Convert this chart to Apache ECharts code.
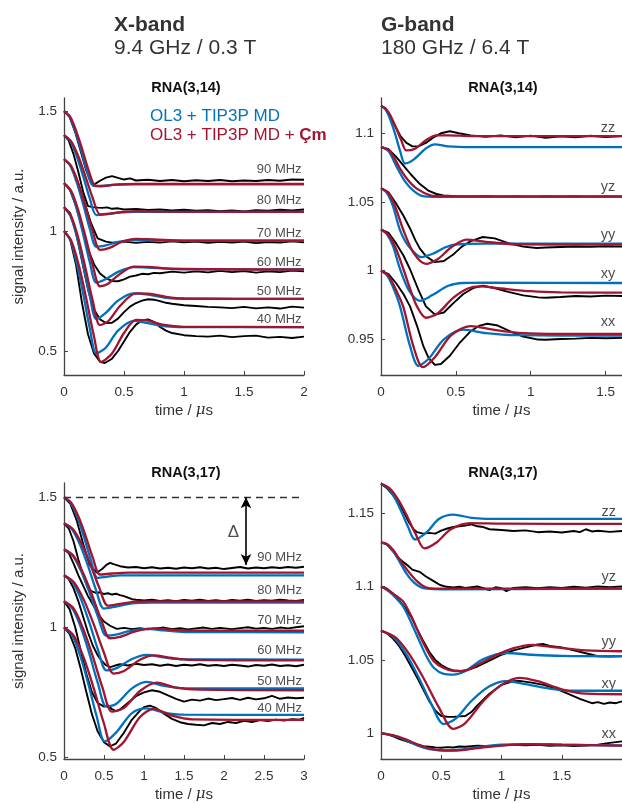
<!DOCTYPE html>
<html>
<head>
<meta charset="utf-8">
<script src="https://cdn.jsdelivr.net/npm/echarts@6/dist/echarts.min.js"></script>
<style>
  html, body { margin: 0; padding: 0; background: #fff; }
  #main { width: 622px; height: 803px; }
</style>
</head>
<body>
<div id="main"></div>
<script>
// ---------- X-band, RNA(3,14): [time (us), signal] ----------
var x14_names = ['90 MHz', '80 MHz', '70 MHz', '60 MHz', '50 MHz', '40 MHz'];

var x14_90_exp = [[0,1.5],[0.046,1.476],[0.092,1.415],[0.138,1.335],[0.184,1.255],[0.23,1.196],[0.26,1.197],[0.3,1.21],[0.35,1.223],[0.4,1.229],[0.45,1.222],[0.5,1.215],[0.55,1.22],[0.6,1.211],[0.7,1.214],[0.8,1.209],[0.9,1.213],[1.0,1.208],[1.1,1.212],[1.2,1.209],[1.3,1.213],[1.4,1.208],[1.5,1.211],[1.6,1.209],[1.7,1.213],[1.8,1.21],[1.9,1.215],[2.0,1.214]];
var x14_90_md = [[0,1.5],[0.048,1.475],[0.096,1.414],[0.144,1.335],[0.192,1.25],[0.24,1.19],[0.3,1.187],[0.4,1.193],[0.55,1.195],[2,1.195]];
var x14_90_cm = [[0,1.5],[0.052,1.476],[0.104,1.414],[0.156,1.334],[0.208,1.249],[0.26,1.19],[0.32,1.188],[0.45,1.195],[0.6,1.197],[2,1.197]];

var x14_80_exp = [[0,1.4],[0.04,1.377],[0.08,1.32],[0.12,1.245],[0.16,1.163],[0.2,1.104],[0.24,1.1],[0.28,1.098],[0.32,1.097],[0.36,1.099],[0.4,1.093],[0.45,1.095],[0.5,1.09],[0.6,1.092],[0.7,1.088],[0.8,1.09],[0.9,1.086],[1.0,1.089],[1.1,1.085],[1.2,1.087],[1.3,1.083],[1.4,1.086],[1.5,1.082],[1.6,1.087],[1.7,1.085],[1.8,1.089],[1.9,1.086],[2.0,1.09]];
var x14_80_md = [[0,1.4],[0.054,1.374],[0.108,1.31],[0.162,1.225],[0.216,1.134],[0.27,1.067],[0.35,1.07],[0.45,1.077],[0.6,1.08],[2,1.08]];
var x14_80_cm = [[0,1.4],[0.06,1.374],[0.12,1.311],[0.18,1.226],[0.24,1.137],[0.3,1.07],[0.38,1.073],[0.5,1.08],[0.62,1.083],[0.8,1.081],[2,1.08]];

var x14_70_exp = [[0,1.3],[0.056,1.273],[0.112,1.21],[0.168,1.125],[0.224,1.035],[0.28,0.97],[0.35,0.956],[0.4,0.952],[0.5,0.956],[0.6,0.951],[0.7,0.955],[0.8,0.952],[0.9,0.957],[1.0,0.953],[1.1,0.956],[1.2,0.951],[1.3,0.955],[1.4,0.952],[1.5,0.956],[1.6,0.95],[1.7,0.954],[1.8,0.952],[1.9,0.957],[2.0,0.953]];
var x14_70_md = [[0,1.3],[0.054,1.271],[0.108,1.2],[0.162,1.108],[0.216,1.008],[0.27,0.935],[0.35,0.94],[0.45,0.955],[0.58,0.962],[0.8,0.96],[2,0.96]];
var x14_70_cm = [[0,1.3],[0.06,1.271],[0.12,1.198],[0.18,1.101],[0.24,0.998],[0.3,0.922],[0.38,0.93],[0.48,0.955],[0.6,0.968],[0.75,0.965],[1,0.96],[2,0.96]];

var x14_60_exp = [[0,1.2],[0.05,1.172],[0.1,1.105],[0.15,1.015],[0.2,0.925],[0.25,0.862],[0.3,0.823],[0.35,0.803],[0.4,0.792],[0.45,0.791],[0.5,0.799],[0.55,0.81],[0.6,0.815],[0.65,0.822],[0.7,0.82],[0.75,0.826],[0.8,0.824],[0.9,0.831],[1.0,0.827],[1.1,0.832],[1.2,0.828],[1.3,0.834],[1.4,0.829],[1.5,0.833],[1.6,0.827],[1.7,0.832],[1.8,0.829],[1.9,0.835],[2.0,0.832]];
var x14_60_md = [[0,1.2],[0.054,1.168],[0.108,1.088],[0.162,0.982],[0.216,0.868],[0.27,0.785],[0.35,0.8],[0.45,0.83],[0.58,0.85],[0.7,0.848],[0.9,0.842],[2,0.84]];
var x14_60_cm = [[0,1.2],[0.06,1.167],[0.12,1.085],[0.18,0.975],[0.24,0.857],[0.3,0.77],[0.36,0.778],[0.45,0.815],[0.58,0.852],[0.7,0.851],[0.9,0.843],[2,0.84]];

var x14_50_exp = [[0,1.1],[0.05,1.076],[0.1,0.995],[0.15,0.875],[0.2,0.757],[0.25,0.673],[0.3,0.632],[0.35,0.617],[0.4,0.618],[0.45,0.635],[0.5,0.662],[0.55,0.685],[0.6,0.7],[0.65,0.71],[0.7,0.716],[0.75,0.714],[0.8,0.708],[0.85,0.701],[0.9,0.697],[1.0,0.691],[1.1,0.688],[1.2,0.684],[1.3,0.682],[1.4,0.679],[1.5,0.684],[1.6,0.678],[1.7,0.682],[1.8,0.677],[1.9,0.685],[2.0,0.681]];
var x14_50_md = [[0,1.1],[0.054,1.063],[0.108,0.975],[0.162,0.857],[0.216,0.727],[0.27,0.633],[0.35,0.66],[0.45,0.71],[0.58,0.74],[0.7,0.735],[0.85,0.722],[1,0.718],[2,0.717]];
var x14_50_cm = [[0,1.1],[0.06,1.062],[0.12,0.969],[0.18,0.843],[0.24,0.708],[0.3,0.608],[0.37,0.625],[0.47,0.69],[0.6,0.74],[0.72,0.738],[0.85,0.726],[1,0.719],[2,0.717]];

var x14_40_exp = [[0,1.0],[0.05,0.968],[0.1,0.86],[0.15,0.7],[0.2,0.57],[0.25,0.49],[0.3,0.455],[0.34,0.45],[0.4,0.468],[0.45,0.5],[0.5,0.54],[0.55,0.58],[0.6,0.61],[0.65,0.628],[0.7,0.632],[0.75,0.622],[0.8,0.6],[0.85,0.585],[0.9,0.575],[1.0,0.566],[1.1,0.562],[1.2,0.56],[1.3,0.564],[1.4,0.558],[1.5,0.562],[1.6,0.564],[1.7,0.556],[1.8,0.559],[1.9,0.554],[2.0,0.56]];
var x14_40_md = [[0,1.0],[0.054,0.96],[0.108,0.862],[0.162,0.733],[0.216,0.592],[0.27,0.49],[0.35,0.515],[0.45,0.585],[0.58,0.626],[0.7,0.616],[0.85,0.603],[1,0.6],[2,0.6]];
var x14_40_cm = [[0,1.0],[0.062,0.958],[0.124,0.856],[0.186,0.718],[0.248,0.566],[0.31,0.455],[0.4,0.49],[0.5,0.575],[0.6,0.63],[0.7,0.627],[0.82,0.61],[1,0.601],[2,0.6]];

// ---------- G-band, RNA(3,14) ----------
var g14_names = ['zz', 'yz', 'yy', 'xy', 'xx'];

var g14_zz_exp = [[0,1.12],[0.03,1.118],[0.06,1.113],[0.09,1.106],[0.13,1.098],[0.17,1.093],[0.21,1.0905],[0.25,1.0905],[0.3,1.093],[0.35,1.097],[0.4,1.1],[0.46,1.1015],[0.52,1.1],[0.6,1.0985],[0.7,1.0975],[0.8,1.0985],[0.9,1.097],[1.0,1.0983],[1.1,1.0968],[1.2,1.0978],[1.3,1.097],[1.4,1.0982],[1.5,1.0972],[1.61,1.098]];
var g14_zz_md = [[0,1.12],[0.032,1.117],[0.064,1.1095],[0.096,1.099],[0.128,1.087],[0.16,1.078],[0.22,1.081],[0.3,1.089],[0.36,1.092],[0.45,1.0905],[0.6,1.09],[1.61,1.09]];
var g14_zz_cm = [[0,1.12],[0.034,1.1177],[0.068,1.1119],[0.102,1.1037],[0.136,1.0947],[0.17,1.0875],[0.23,1.089],[0.3,1.095],[0.37,1.0985],[0.45,1.0985],[0.6,1.098],[1.61,1.098]];

var g14_yz_exp = [[0,1.09],[0.05,1.0885],[0.1,1.083],[0.149,1.0767],[0.2,1.07],[0.26,1.063],[0.32,1.058],[0.37,1.0558],[0.417,1.0548],[0.5,1.0542],[0.6,1.0538],[0.7,1.0542],[0.8,1.0536],[0.9,1.054],[1.0,1.0535],[1.1,1.054],[1.2,1.0536],[1.3,1.0541],[1.4,1.0535],[1.5,1.054],[1.61,1.0537]];
var g14_yz_md = [[0,1.09],[0.05,1.087],[0.105,1.0755],[0.16,1.065],[0.216,1.0583],[0.28,1.0542],[0.35,1.0538],[1.61,1.0538]];
var g14_yz_cm = [[0,1.09],[0.06,1.087],[0.127,1.0743],[0.18,1.066],[0.239,1.0597],[0.33,1.0548],[0.42,1.054],[1.61,1.054]];

var g14_yy_exp = [[0,1.06],[0.05,1.057],[0.1,1.049],[0.15,1.04],[0.194,1.0307],[0.23,1.022],[0.26,1.016],[0.3,1.0105],[0.36,1.0062],[0.42,1.007],[0.48,1.0115],[0.54,1.0175],[0.6,1.0215],[0.68,1.0245],[0.76,1.0235],[0.85,1.02],[0.95,1.0175],[1.04,1.0165],[1.1,1.0168],[1.2,1.0172],[1.3,1.0176],[1.4,1.0173],[1.5,1.0178],[1.61,1.0175]];
var g14_yy_md = [[0,1.06],[0.04,1.0565],[0.08,1.047],[0.127,1.0295],[0.18,1.0185],[0.27,1.0099],[0.35,1.0125],[0.43,1.017],[0.51,1.0192],[0.7,1.0196],[1.61,1.0196]];
var g14_yy_cm = [[0,1.06],[0.045,1.057],[0.09,1.048],[0.15,1.0294],[0.22,1.0125],[0.3,1.0049],[0.38,1.0085],[0.47,1.017],[0.57,1.0226],[0.7,1.021],[0.9,1.0192],[1.61,1.0189]];

var g14_xy_exp = [[0,1.03],[0.05,1.0275],[0.1,1.02],[0.15,1.011],[0.194,1.001],[0.25,0.986],[0.3,0.974],[0.36,0.968],[0.42,0.9695],[0.48,0.976],[0.55,0.983],[0.62,0.9875],[0.68,0.989],[0.75,0.9875],[0.85,0.9845],[0.95,0.982],[1.05,0.9805],[1.1,0.9803],[1.2,0.9808],[1.3,0.9815],[1.4,0.9812],[1.5,0.9818],[1.61,0.9815]];
var g14_xy_md = [[0,1.03],[0.04,1.0265],[0.08,1.018],[0.127,1.0012],[0.19,0.985],[0.26,0.978],[0.34,0.982],[0.45,0.989],[0.55,0.991],[0.7,0.9912],[1.61,0.991]];
var g14_xy_cm = [[0,1.03],[0.05,1.026],[0.1,1.016],[0.15,1.001],[0.2,0.985],[0.24,0.974],[0.3,0.9657],[0.38,0.969],[0.48,0.98],[0.58,0.987],[0.66,0.9885],[0.8,0.987],[1.0,0.985],[1.2,0.9842],[1.61,0.984]];

var g14_xx_exp = [[0,1.0],[0.05,0.9975],[0.1,0.991],[0.15,0.983],[0.194,0.974],[0.24,0.96],[0.283,0.945],[0.32,0.936],[0.36,0.9314],[0.4,0.932],[0.46,0.938],[0.53,0.948],[0.6,0.956],[0.66,0.96],[0.71,0.9613],[0.78,0.96],[0.86,0.956],[0.95,0.952],[1.05,0.9498],[1.1,0.9497],[1.2,0.9502],[1.3,0.9505],[1.4,0.951],[1.5,0.9508],[1.61,0.951]];
var g14_xx_md = [[0,1.0],[0.04,0.9965],[0.08,0.988],[0.127,0.974],[0.194,0.945],[0.25,0.9307],[0.32,0.936],[0.42,0.95],[0.55,0.957],[0.7,0.9545],[0.9,0.953],[1.61,0.9527]];
var g14_xx_cm = [[0,1.0],[0.05,0.9962],[0.1,0.986],[0.148,0.974],[0.216,0.945],[0.28,0.9297],[0.36,0.937],[0.47,0.953],[0.6,0.9596],[0.75,0.957],[0.95,0.9545],[1.2,0.954],[1.61,0.954]];

// ---------- X-band, RNA(3,17) ----------
var x17_names = ['90 MHz', '80 MHz', '70 MHz', '60 MHz', '50 MHz', '40 MHz'];

var x17_90_exp = [[0,1.5],[0.08,1.475],[0.16,1.41],[0.24,1.32],[0.32,1.24],[0.41,1.21],[0.48,1.225],[0.53,1.24],[0.575,1.248],[0.62,1.243],[0.7,1.235],[0.8,1.23],[0.9,1.232],[1.0,1.227],[1.1,1.231],[1.2,1.226],[1.3,1.229],[1.4,1.225],[1.5,1.23],[1.6,1.227],[1.7,1.231],[1.8,1.226],[1.9,1.229],[2.0,1.224],[2.1,1.228],[2.2,1.232],[2.3,1.226],[2.4,1.23],[2.5,1.227],[2.6,1.231],[2.7,1.228],[2.8,1.232],[2.9,1.229],[3.0,1.233]];
var x17_90_md = [[0,1.5],[0.084,1.478],[0.168,1.4225],[0.252,1.345],[0.336,1.258],[0.42,1.19],[0.55,1.195],[0.7,1.2],[3,1.2]];
var x17_90_cm = [[0,1.5],[0.09,1.479],[0.18,1.426],[0.27,1.3515],[0.36,1.268],[0.45,1.203],[0.6,1.207],[0.8,1.21],[3,1.21]];

var x17_80_exp = [[0,1.4],[0.06,1.38],[0.12,1.33],[0.18,1.26],[0.24,1.2],[0.3,1.15],[0.35,1.138],[0.4,1.132],[0.45,1.135],[0.5,1.128],[0.55,1.131],[0.6,1.126],[0.65,1.129],[0.7,1.124],[0.75,1.12],[0.8,1.114],[0.85,1.108],[0.9,1.106],[1.0,1.103],[1.1,1.106],[1.2,1.101],[1.3,1.104],[1.4,1.1],[1.5,1.105],[1.6,1.102],[1.7,1.106],[1.8,1.101],[1.9,1.104],[2.0,1.1],[2.1,1.105],[2.2,1.102],[2.3,1.106],[2.4,1.101],[2.5,1.104],[2.6,1.102],[2.7,1.106],[2.8,1.103],[2.9,1.101],[3.0,1.105]];
var x17_80_md = [[0,1.4],[0.1,1.377],[0.2,1.318],[0.3,1.236],[0.4,1.144],[0.5,1.072],[0.65,1.08],[0.85,1.092],[1.1,1.095],[3,1.095]];
var x17_80_cm = [[0,1.4],[0.11,1.378],[0.22,1.321],[0.33,1.2415],[0.44,1.153],[0.55,1.083],[0.7,1.09],[0.9,1.099],[1.2,1.1],[3,1.1]];

var x17_70_exp = [[0,1.3],[0.06,1.285],[0.12,1.245],[0.18,1.2],[0.24,1.16],[0.3,1.12],[0.37,1.083],[0.44,1.045],[0.5,1.022],[0.575,1.006],[0.66,0.994],[0.75,0.998],[0.85,0.993],[0.95,0.997],[1.05,0.992],[1.15,0.996],[1.25,0.999],[1.35,0.993],[1.45,0.997],[1.55,0.992],[1.65,0.996],[1.75,0.999],[1.85,0.994],[1.95,0.998],[2.1,0.993],[2.2,0.997],[2.3,1.0],[2.4,0.995],[2.5,0.998],[2.6,0.994],[2.7,0.999],[2.8,0.996],[2.9,1.0],[3.0,1.004]];
var x17_70_md = [[0,1.3],[0.106,1.277],[0.212,1.217],[0.318,1.134],[0.424,1.041],[0.53,0.968],[0.65,0.972],[0.8,0.984],[1.03,0.994],[1.25,0.988],[1.5,0.982],[3,0.981]];
var x17_70_cm = [[0,1.3],[0.115,1.276],[0.23,1.2145],[0.345,1.129],[0.46,1.033],[0.575,0.958],[0.7,0.963],[0.9,0.985],[1.12,0.996],[1.35,0.99],[1.6,0.987],[3,0.987]];

var x17_60_exp = [[0,1.2],[0.06,1.185],[0.12,1.15],[0.18,1.1],[0.24,1.04],[0.3,0.98],[0.36,0.93],[0.42,0.893],[0.47,0.872],[0.52,0.855],[0.575,0.847],[0.63,0.852],[0.7,0.858],[0.8,0.853],[0.9,0.86],[1.0,0.855],[1.1,0.858],[1.2,0.852],[1.3,0.857],[1.4,0.851],[1.5,0.856],[1.6,0.853],[1.7,0.858],[1.8,0.852],[1.9,0.855],[2.0,0.851],[2.1,0.856],[2.2,0.853],[2.3,0.849],[2.4,0.855],[2.5,0.852],[2.6,0.857],[2.7,0.851],[2.8,0.854],[2.9,0.85],[3.0,0.856]];
var x17_60_md = [[0,1.2],[0.106,1.174],[0.212,1.1085],[0.318,1.017],[0.424,0.9145],[0.53,0.834],[0.65,0.842],[0.85,0.878],[1.03,0.894],[1.25,0.884],[1.5,0.877],[3,0.876]];
var x17_60_cm = [[0,1.2],[0.124,1.1735],[0.248,1.1055],[0.372,1.011],[0.496,0.905],[0.62,0.822],[0.75,0.832],[0.95,0.875],[1.12,0.892],[1.35,0.882],[1.6,0.875],[3,0.873]];

var x17_50_exp = [[0,1.1],[0.07,1.07],[0.14,1.0],[0.21,0.91],[0.28,0.82],[0.35,0.75],[0.42,0.71],[0.5,0.695],[0.55,0.7],[0.6,0.685],[0.65,0.678],[0.7,0.684],[0.8,0.71],[0.9,0.735],[1.0,0.75],[1.1,0.758],[1.2,0.752],[1.3,0.738],[1.4,0.725],[1.5,0.714],[1.6,0.722],[1.7,0.718],[1.8,0.726],[1.9,0.72],[2.0,0.724],[2.1,0.728],[2.2,0.721],[2.3,0.729],[2.4,0.723],[2.5,0.727],[2.6,0.736],[2.7,0.725],[2.8,0.73],[2.9,0.727],[3.0,0.729]];
var x17_50_md = [[0,1.1],[0.106,1.0717],[0.212,0.999],[0.318,0.8975],[0.424,0.784],[0.53,0.695],[0.65,0.705],[0.85,0.765],[1.03,0.79],[1.25,0.775],[1.5,0.766],[3,0.765]];
var x17_50_cm = [[0,1.1],[0.12,1.0727],[0.24,0.994],[0.36,0.888],[0.48,0.769],[0.6,0.676],[0.75,0.69],[0.95,0.755],[1.16,0.787],[1.4,0.768],[1.7,0.76],[3,0.758]];

var x17_40_exp = [[0,1.0],[0.07,0.975],[0.14,0.92],[0.21,0.84],[0.28,0.75],[0.35,0.665],[0.42,0.6],[0.5,0.558],[0.575,0.542],[0.65,0.553],[0.75,0.595],[0.85,0.645],[0.95,0.68],[1.0,0.693],[1.07,0.699],[1.15,0.69],[1.25,0.668],[1.35,0.648],[1.45,0.635],[1.55,0.628],[1.65,0.625],[1.75,0.623],[1.85,0.632],[1.95,0.628],[2.05,0.636],[2.15,0.632],[2.25,0.64],[2.35,0.636],[2.45,0.643],[2.55,0.639],[2.65,0.645],[2.75,0.641],[2.85,0.647],[2.95,0.645],[3.0,0.652]];
var x17_40_md = [[0,1.0],[0.102,0.969],[0.204,0.89],[0.306,0.78],[0.408,0.658],[0.51,0.561],[0.65,0.595],[0.85,0.67],[1.03,0.688],[1.25,0.672],[1.5,0.664],[3,0.663]];
var x17_40_cm = [[0,1.0],[0.124,0.967],[0.248,0.882],[0.372,0.765],[0.496,0.633],[0.62,0.529],[0.75,0.56],[0.95,0.655],[1.12,0.686],[1.35,0.66],[1.6,0.646],[3,0.644]];

// ---------- G-band, RNA(3,17) ----------
var g17_names = ['zz', 'yz', 'yy', 'xy', 'xx'];

var g17_zz_exp = [[0,1.17],[0.05,1.167],[0.09,1.163],[0.13,1.159],[0.18,1.152],[0.23,1.144],[0.27,1.139],[0.3,1.137],[0.35,1.136],[0.4,1.1365],[0.45,1.136],[0.5,1.138],[0.55,1.1395],[0.6,1.1405],[0.65,1.141],[0.7,1.1415],[0.75,1.1423],[0.8,1.141],[0.85,1.1405],[0.9,1.139],[1.0,1.1385],[1.1,1.1378],[1.2,1.1382],[1.3,1.137],[1.4,1.1375],[1.5,1.1368],[1.6,1.1378],[1.65,1.137],[1.7,1.139],[1.75,1.1375],[1.8,1.138],[1.9,1.1372],[2.0,1.1378]];
var g17_zz_md = [[0,1.17],[0.056,1.1673],[0.113,1.1605],[0.169,1.151],[0.226,1.1404],[0.282,1.132],[0.38,1.137],[0.48,1.146],[0.6,1.149],[0.75,1.1468],[1.0,1.146],[2,1.146]];
var g17_zz_cm = [[0,1.17],[0.072,1.1669],[0.144,1.159],[0.216,1.148],[0.288,1.1357],[0.36,1.126],[0.46,1.13],[0.58,1.139],[0.74,1.1432],[1.0,1.1428],[2,1.1426]];

var g17_yz_exp = [[0,1.13],[0.05,1.1285],[0.1,1.124],[0.15,1.119],[0.185,1.1167],[0.22,1.1145],[0.26,1.1115],[0.32,1.11],[0.37,1.107],[0.43,1.104],[0.49,1.101],[0.545,1.0998],[0.6,1.0993],[0.65,1.0998],[0.7,1.099],[0.75,1.0995],[0.8,1.1],[0.85,1.0988],[0.9,1.0975],[0.95,1.0995],[1.0,1.0988],[1.04,1.0968],[1.1,1.099],[1.2,1.0995],[1.3,1.0988],[1.4,1.0996],[1.5,1.099],[1.6,1.0998],[1.7,1.0992],[1.8,1.1],[1.9,1.0995],[2.0,1.1]];
var g17_yz_md = [[0,1.13],[0.05,1.1285],[0.1,1.124],[0.15,1.1175],[0.21,1.109],[0.27,1.103],[0.33,1.0995],[0.38,1.0985],[0.5,1.098],[2,1.0985]];
var g17_yz_cm = [[0,1.13],[0.05,1.129],[0.1,1.125],[0.15,1.119],[0.22,1.111],[0.3,1.1035],[0.37,1.0995],[0.45,1.0985],[2,1.0985]];

var g17_yy_exp = [[0,1.1],[0.05,1.0985],[0.1,1.095],[0.15,1.0905],[0.2,1.0855],[0.25,1.0795],[0.3,1.071],[0.35,1.063],[0.4,1.0555],[0.45,1.05],[0.5,1.0465],[0.55,1.0442],[0.6,1.0428],[0.66,1.0424],[0.72,1.0432],[0.8,1.0455],[0.9,1.0495],[1.0,1.0535],[1.1,1.0565],[1.2,1.0585],[1.3,1.0605],[1.35,1.0608],[1.4,1.0595],[1.5,1.0585],[1.6,1.0565],[1.7,1.0545],[1.8,1.0525],[1.9,1.0522],[2.0,1.0526]];
var g17_yy_md = [[0,1.1],[0.06,1.097],[0.12,1.0925],[0.185,1.0863],[0.25,1.0755],[0.32,1.0626],[0.38,1.052],[0.44,1.0445],[0.52,1.0405],[0.6,1.04],[0.7,1.0425],[0.85,1.0505],[1.04,1.0547],[1.25,1.0535],[1.5,1.0527],[2,1.0525]];
var g17_yy_cm = [[0,1.1],[0.06,1.0975],[0.12,1.094],[0.185,1.0897],[0.25,1.08],[0.32,1.067],[0.38,1.057],[0.44,1.049],[0.52,1.0445],[0.6,1.0426],[0.68,1.0424],[0.8,1.0465],[0.95,1.053],[1.1,1.058],[1.26,1.0603],[1.45,1.0585],[1.7,1.0565],[2,1.0559]];

var g17_xy_exp = [[0,1.07],[0.05,1.068],[0.1,1.0645],[0.15,1.0595],[0.2,1.053],[0.25,1.0455],[0.3,1.038],[0.35,1.03],[0.4,1.022],[0.45,1.0155],[0.5,1.0118],[0.55,1.0113],[0.6,1.0112],[0.65,1.0115],[0.7,1.0118],[0.75,1.0145],[0.8,1.019],[0.9,1.027],[1.0,1.033],[1.1,1.0355],[1.15,1.0357],[1.25,1.0345],[1.35,1.033],[1.45,1.0305],[1.55,1.027],[1.65,1.0235],[1.75,1.0205],[1.8,1.0212],[1.85,1.02],[1.9,1.021],[1.95,1.0205],[2.0,1.0218]];
var g17_xy_md = [[0,1.07],[0.104,1.0654],[0.208,1.0541],[0.312,1.0382],[0.416,1.0203],[0.52,1.0063],[0.62,1.01],[0.75,1.022],[0.9,1.032],[1.04,1.0356],[1.2,1.0335],[1.4,1.0305],[1.6,1.029],[2,1.029]];
var g17_xy_cm = [[0,1.07],[0.12,1.0653],[0.24,1.0533],[0.36,1.0365],[0.48,1.0177],[0.6,1.003],[0.7,1.007],[0.85,1.022],[1.0,1.033],[1.15,1.0378],[1.3,1.0355],[1.5,1.03],[1.7,1.027],[2,1.0266]];

var g17_xx_exp = [[0,1.0],[0.05,0.9995],[0.1,0.998],[0.15,0.9962],[0.2,0.9948],[0.25,0.9935],[0.3,0.9925],[0.35,0.9912],[0.4,0.9908],[0.45,0.9904],[0.5,0.9902],[0.55,0.9906],[0.6,0.9903],[0.65,0.991],[0.7,0.9908],[0.8,0.9915],[0.9,0.9912],[1.0,0.9918],[1.1,0.9922],[1.2,0.9918],[1.3,0.9921],[1.4,0.9915],[1.5,0.9919],[1.6,0.9913],[1.7,0.9917],[1.8,0.9923],[1.9,0.9935],[2.0,0.9945]];
var g17_xx_md = [[0,1.0],[0.1,0.9985],[0.2,0.9955],[0.3,0.9918],[0.4,0.9893],[0.52,0.9883],[0.65,0.9888],[0.8,0.9905],[1.0,0.9922],[1.2,0.9927],[1.5,0.9922],[2,0.9917]];
var g17_xx_cm = [[0,1.0],[0.1,0.9987],[0.2,0.996],[0.3,0.9925],[0.4,0.9897],[0.55,0.9882],[0.7,0.9888],[0.85,0.9905],[1.05,0.992],[1.25,0.9927],[1.5,0.9922],[2,0.9916]];

// ---------- layout ----------
var FONT = 'Liberation Sans, Arial, Helvetica, sans-serif';
var AXIS = '#444';
var TXT = '#333';
var BLUE = '#0072BD';
var RED = '#A2142F';

// where the trace names sit in each panel (data coords)
var x14_labelAt = [1.98, [1.258, 1.129, 0.99, 0.871, 0.747, 0.633]];
var g14_labelAt = [1.565, [1.1037, 1.0607, 1.026, 0.9976, 0.9623]];
var x17_labelAt = [2.975, [1.267, 1.1435, 1.028, 0.911, 0.791, 0.688]];
var g17_labelAt = [1.95, [1.1509, 1.1066, 1.0622, 1.0333, 0.9995]];

var myChart = echarts.init(document.getElementById('main'));

function xAx(i, max, ticks) {
    return {
        type: 'value', gridIndex: i, min: 0, max: max,
        axisLine: { show: true, lineStyle: { color: AXIS, width: 1.3 } },
        axisTick: { show: true, inside: true, length: 4, customValues: ticks, lineStyle: { color: AXIS } },
        axisLabel: { customValues: ticks, color: TXT, fontSize: 13.5, fontFamily: FONT, margin: 10 },
        splitLine: { show: false },
        name: '{a|time / }{m|μ}{a|s}',
        nameLocation: 'middle', nameGap: 28,
        nameTextStyle: {
            rich: {
                a: { fontSize: 15, color: TXT, fontFamily: FONT },
                m: { fontSize: 15, color: TXT, fontFamily: 'DejaVu Serif, serif', fontStyle: 'italic' }
            }
        }
    };
}

function yAx(i, min, max, ticks, withName) {
    var ax = {
        type: 'value', gridIndex: i, min: min, max: max,
        axisLine: { show: true, lineStyle: { color: AXIS, width: 1.3 } },
        axisTick: { show: true, inside: true, length: 4, customValues: ticks, lineStyle: { color: AXIS } },
        axisLabel: { customValues: ticks, color: TXT, fontSize: 13.5, fontFamily: FONT, margin: 7 },
        splitLine: { show: false }
    };
    if (withName) {
        ax.name = 'signal intensity / a.u.';
        ax.nameLocation = 'middle';
        ax.nameGap = 38;
        ax.nameTextStyle = { fontSize: 15, color: TXT, fontFamily: FONT };
    }
    return ax;
}

function trio(i, exp, md, cm) {
    var base = { type: 'line', xAxisIndex: i, yAxisIndex: i, showSymbol: false, symbol: 'none', silent: true };
    return [
        Object.assign({}, base, { data: exp, lineStyle: { color: '#000', width: 1.9 } }),
        Object.assign({}, base, { data: md, smooth: 0.3, lineStyle: { color: BLUE, width: 2.3 } }),
        Object.assign({}, base, { data: cm, smooth: 0.3, lineStyle: { color: RED, width: 2.3 } })
    ];
}

function names(i, list, at, size) {
    return {
        type: 'scatter', xAxisIndex: i, yAxisIndex: i, symbolSize: 0, silent: true,
        data: list.map(function (n, k) { return { name: n, value: [at[0], at[1][k]] }; }),
        label: {
            show: true, position: 'left', distance: 0,
            formatter: function (p) { return p.name; },
            color: '#222', fontSize: size, fontFamily: FONT
        }
    };
}

var series = [];
series = series.concat(
    trio(0, x14_90_exp, x14_90_md, x14_90_cm), trio(0, x14_80_exp, x14_80_md, x14_80_cm),
    trio(0, x14_70_exp, x14_70_md, x14_70_cm), trio(0, x14_60_exp, x14_60_md, x14_60_cm),
    trio(0, x14_50_exp, x14_50_md, x14_50_cm), trio(0, x14_40_exp, x14_40_md, x14_40_cm),
    trio(1, g14_zz_exp, g14_zz_md, g14_zz_cm), trio(1, g14_yz_exp, g14_yz_md, g14_yz_cm),
    trio(1, g14_yy_exp, g14_yy_md, g14_yy_cm), trio(1, g14_xy_exp, g14_xy_md, g14_xy_cm),
    trio(1, g14_xx_exp, g14_xx_md, g14_xx_cm),
    trio(2, x17_90_exp, x17_90_md, x17_90_cm), trio(2, x17_80_exp, x17_80_md, x17_80_cm),
    trio(2, x17_70_exp, x17_70_md, x17_70_cm), trio(2, x17_60_exp, x17_60_md, x17_60_cm),
    trio(2, x17_50_exp, x17_50_md, x17_50_cm), trio(2, x17_40_exp, x17_40_md, x17_40_cm),
    trio(3, g17_zz_exp, g17_zz_md, g17_zz_cm), trio(3, g17_yz_exp, g17_yz_md, g17_yz_cm),
    trio(3, g17_yy_exp, g17_yy_md, g17_yy_cm), trio(3, g17_xy_exp, g17_xy_md, g17_xy_cm),
    trio(3, g17_xx_exp, g17_xx_md, g17_xx_cm)
);
series.push(names(0, x14_names, x14_labelAt, 13));
series.push(names(1, g14_names, g14_labelAt, 14.5));
series.push(names(3, g17_names, g17_labelAt, 14.5));

// RNA(3,17) X-band: names, dashed reference line at the start value, and the Δ arrow
var x17Names = names(2, x17_names, x17_labelAt, 13);
x17Names.data.push({
    name: 'Δ', value: [2.19, 1.364],
    label: { fontSize: 17, color: '#222' }
});
x17Names.markLine = {
    silent: true, animation: false,
    symbol: ['none', 'none'],
    label: { show: false },
    data: [
        { yAxis: 1.5, lineStyle: { type: [7, 5], color: '#333', width: 1.3 } },
        [
            { coord: [2.275, 1.5], symbol: 'arrow', symbolSize: [8, 11], lineStyle: { type: 'solid', color: '#000', width: 1.6 } },
            { coord: [2.275, 1.24], symbol: 'arrow', symbolSize: [8, 11] }
        ]
    ]
};
series.push(x17Names);

function band(text, sub, left) {
    return {
        text: '{b|' + text + '}\n{n|' + sub + '}', left: left, top: 14, padding: 0,
        textStyle: { rich: {
            b: { fontSize: 21, fontWeight: 'bold', color: TXT, lineHeight: 23, fontFamily: FONT },
            n: { fontSize: 21, fontWeight: 'normal', color: TXT, lineHeight: 23, fontFamily: FONT }
        } }
    };
}

function panelTitle(text, left, top) {
    return {
        text: text, left: left, top: top, textAlign: 'center', padding: 0,
        textStyle: { fontSize: 14.5, fontWeight: 'bold', color: '#111', fontFamily: FONT }
    };
}

var option = {
    backgroundColor: '#fff',
    animation: false,
    textStyle: { fontFamily: FONT },
    title: [
        band('X-band', '9.4 GHz / 0.3 T', 114),
        band('G-band', '180 GHz / 6.4 T', 381),
        panelTitle('RNA(3,14)', 186, 80),
        panelTitle('RNA(3,14)', 503, 80),
        panelTitle('RNA(3,17)', 186, 465),
        panelTitle('RNA(3,17)', 503, 465),
        {
            text: '{b|OL3 + TIP3P MD}\n{r|OL3 + TIP3P MD + }{rb|Çm}', left: 150, top: 107, padding: 0,
            textStyle: { rich: {
                b: { fontSize: 17, fontWeight: 'normal', color: BLUE, lineHeight: 19, fontFamily: FONT },
                r: { fontSize: 17, fontWeight: 'normal', color: RED, lineHeight: 19, fontFamily: FONT },
                rb: { fontSize: 17, fontWeight: 'bold', color: RED, lineHeight: 19, fontFamily: FONT }
            } }
        }
    ],
    grid: [
        { left: 64, top: 98, width: 240, height: 277 },
        { left: 381, top: 98, width: 241, height: 277 },
        { left: 64, top: 483, width: 240, height: 277 },
        { left: 381, top: 483, width: 241, height: 279 }
    ],
    xAxis: [
        xAx(0, 2, [0, 0.5, 1, 1.5, 2]),
        xAx(1, 1.61, [0, 0.5, 1, 1.5]),
        xAx(2, 3, [0, 0.5, 1, 1.5, 2, 2.5, 3]),
        xAx(3, 2, [0, 0.5, 1, 1.5])
    ],
    yAxis: [
        yAx(0, 0.4, 1.555, [0.5, 1, 1.5], true),
        yAx(1, 0.924, 1.1257, [0.95, 1, 1.05, 1.1], false),
        yAx(2, 0.4935, 1.555, [0.5, 1, 1.5], true),
        yAx(3, 0.9825, 1.1705, [1, 1.05, 1.1, 1.15], false)
    ],
    series: series
};

myChart.setOption(option);
window.onresize = function () { myChart.resize(); };
</script>
</body>
</html>
